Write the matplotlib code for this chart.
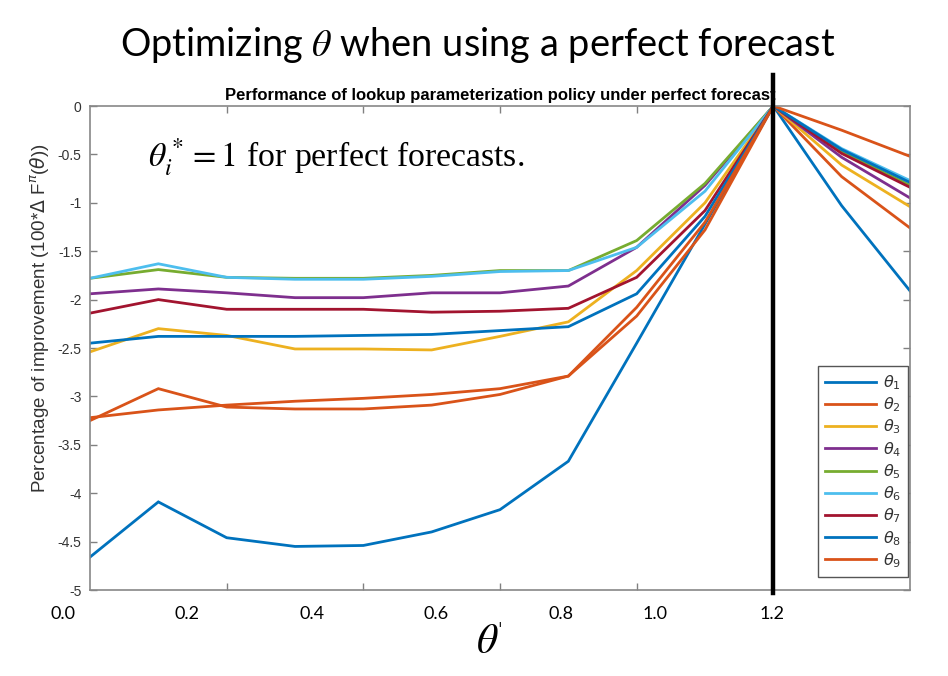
import matplotlib
matplotlib.use("Agg")
import matplotlib.pyplot as plt
from matplotlib.font_manager import FontProperties
import numpy as np

# ---------------- data ----------------
theta_grid = [0.0, 0.12, 0.24, 0.36, 0.48, 0.60, 0.72, 0.84, 0.96, 1.08, 1.20, 1.32, 1.44]
optimal_theta = 1.20

theta1 = [-4.66, -4.09, -4.46, -4.55, -4.54, -4.40, -4.17, -3.67, -2.45, -1.22, 0.0, -1.03, -1.91]
theta2 = [-3.25, -2.92, -3.11, -3.13, -3.13, -3.09, -2.98, -2.79, -2.17, -1.28, 0.0, -0.73, -1.26]
theta3 = [-2.54, -2.30, -2.37, -2.51, -2.51, -2.52, -2.38, -2.23, -1.70, -1.00, 0.0, -0.61, -1.04]
theta4 = [-1.94, -1.89, -1.93, -1.98, -1.98, -1.93, -1.93, -1.86, -1.46, -0.82, 0.0, -0.53, -0.95]
theta5 = [-1.78, -1.69, -1.77, -1.78, -1.78, -1.75, -1.70, -1.70, -1.39, -0.80, 0.0, -0.47, -0.82]
theta6 = [-1.78, -1.63, -1.77, -1.79, -1.79, -1.76, -1.71, -1.70, -1.46, -0.88, 0.0, -0.44, -0.77]
theta7 = [-2.14, -2.00, -2.10, -2.10, -2.10, -2.13, -2.12, -2.09, -1.77, -1.08, 0.0, -0.49, -0.84]
theta8 = [-2.45, -2.38, -2.38, -2.38, -2.37, -2.36, -2.32, -2.28, -1.94, -1.14, 0.0, -0.45, -0.79]
theta9 = [-3.22, -3.14, -3.09, -3.05, -3.02, -2.98, -2.92, -2.79, -2.08, -1.20, 0.0, -0.25, -0.52]

series = [theta1, theta2, theta3, theta4, theta5, theta6, theta7, theta8, theta9]
series_labels = [r'$\theta_{%d}$' % i for i in range(1, 10)]
colors = ['#0072BD', '#D95319', '#EDB120', '#7E2F8E', '#77AC30',
          '#4DBEEE', '#A2142F', '#0072BD', '#D95319']

y_ticks = [0, -0.5, -1, -1.5, -2, -2.5, -3, -3.5, -4, -4.5, -5]
y_tick_labels = ['0', '-0.5', '-1', '-1.5', '-2', '-2.5', '-3', '-3.5', '-4', '-4.5', '-5']
matlab_x_ticks = [0.24, 0.48, 0.72, 0.96, 1.20]
slide_x_labels = ['0.0', '0.2', '0.4', '0.6', '0.8', '1.0', '1.2']

# ---------------- figure ----------------
W, H = 948, 676
fig = plt.figure(figsize=(W / 100, H / 100), dpi=100)
plt.rcParams['mathtext.fontset'] = 'stix'

ax = fig.add_axes([90 / W, 1 - 590 / H, 820 / W, 484 / H])

for s, c, lab in zip(series, colors, series_labels):
    ax.plot(theta_grid, s, color=c, lw=2.0, label=lab, solid_joinstyle='miter')

ax.set_xlim(theta_grid[0], theta_grid[-1])
ax.set_ylim(-5, 0)
ax.set_yticks(y_ticks)
ax.set_yticklabels(y_tick_labels, fontsize=10, color='#333333', family='Liberation Sans')
ax.set_xticks(matlab_x_ticks)
ax.set_xticklabels([])
ax.tick_params(direction='in', length=5, width=1, color='#808080',
               top=True, right=True, bottom=True, left=True, pad=6)
for sp in ax.spines.values():
    sp.set_color('#888888')
    sp.set_linewidth(1.2)

ylab_fp = FontProperties(family='Liberation Sans', size=13.5, math_fontfamily='dejavusans')
ax.set_ylabel(r'Percentage of improvement (100*$\Delta$ F$^{\pi}$($\theta$))',
              fontproperties=ylab_fp, color='#333333')
ax.yaxis.set_label_coords((52 - 90) / 820, (590 - 318) / 484)
ax.set_title('Performance of lookup parameterization policy under perfect forecast',
             fontsize=12, fontweight='bold', family='Liberation Sans', pad=4)

ax.axvline(optimal_theta, ymin=-0.007, ymax=1.064, color='black', lw=3.2,
           clip_on=False, zorder=10)

leg_fp = FontProperties(family='Liberation Sans', size=11.5, math_fontfamily='dejavusans')
leg = ax.legend(loc='lower right', bbox_to_anchor=(0.9976, 0.027), borderaxespad=0,
                prop=leg_fp, handlelength=3.2, labelspacing=0.22, handletextpad=0.4,
                borderpad=0.45, fancybox=False, framealpha=1, edgecolor='#555555')
leg.get_frame().set_linewidth(1.0)
for t in leg.get_texts():
    t.set_color('#333333')

ax.text((148 - 90) / 820, 1 - (157 - 106) / 484, r'$\theta_i^* = 1$ for perfect forecasts.',
        transform=ax.transAxes, fontsize=24.3, family='Liberation Serif',
        va='center', ha='left')

# slide-level text
fig.text(478 / W, 1 - 45 / H, r'Optimizing $\theta$ when using a perfect forecast',
         fontsize=27.4, family='Lato', ha='center', va='center')

slide_x_pos = [63, 187, 312, 436, 561, 655, 772]
for lab, px in zip(slide_x_labels, slide_x_pos):
    fig.text(px / W, 1 - 614 / H, lab, fontsize=13, family='Lato', ha='center', va='center')

fig.text(487 / W, 1 - 641 / H, r"$\theta$", fontsize=30, ha='center', va='center')
fig.text(500 / W, 1 - 631 / H, "ˈ", fontsize=12, family='DejaVu Sans',
         ha='center', va='center')

fig.savefig('out.png', dpi=100)
